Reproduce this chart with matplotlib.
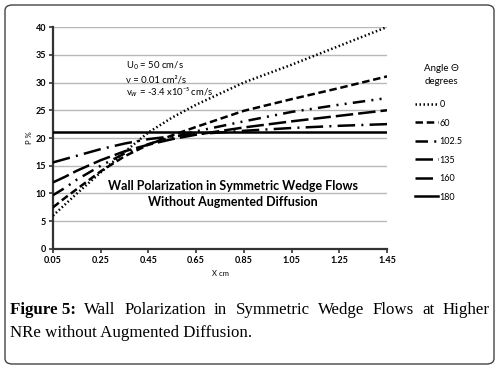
import matplotlib.pyplot as plt
import numpy as np
from matplotlib.patches import FancyBboxPatch

x_cm = [0.05, 0.1, 0.15, 0.25, 0.35, 0.45, 0.55, 0.65, 0.85, 1.05, 1.25, 1.45]
angles = ['0', '60', '102.5', '135', '160', '180']
p_0 = [6.0, 8.0, 10.0, 13.8, 17.5, 21.0, 23.7, 26.0, 30.0, 33.2, 36.6, 40.0]
p_60 = [7.5, 9.2, 10.8, 14.0, 16.7, 18.8, 20.5, 22.0, 24.9, 27.0, 29.0, 31.1]
p_102 = [9.7, 11.0, 12.5, 15.0, 17.2, 18.9, 20.2, 21.2, 23.0, 24.7, 26.0, 27.2]
p_135 = [12.0, 13.0, 14.1, 16.0, 17.6, 18.8, 19.8, 20.6, 21.9, 23.0, 24.0, 25.0]
p_160 = [15.6, 16.2, 16.8, 18.0, 19.0, 19.8, 20.3, 20.7, 21.3, 21.8, 22.2, 22.5]
p_180 = [21.0] * len(x_cm)
x_ticks = [0.05, 0.25, 0.45, 0.65, 0.85, 1.05, 1.25, 1.45]
y_ticks = [0, 5, 10, 15, 20, 25, 30, 35, 40]

series = [p_0, p_60, p_102, p_135, p_160, p_180]
styles = [
    (0, (0.6, 1.0)),
    (0, (3.0, 1.5)),
    (0, (5.0, 2.5, 0.8, 2.5, 0.8, 2.5)),
    (0, (7.0, 2.0)),
    (0, (7.0, 2.5, 0.8, 2.5)),
    '-',
]

sans = 'Lato'
fig = plt.figure(figsize=(4.99, 3.68), dpi=100)
ax = fig.add_axes([0.1062, 0.3234, 0.6694, 0.6032])

handles = []
for vals, ls, lab in zip(series, styles, angles):
    line, = ax.plot(x_cm, vals, color='black', lw=1.8, linestyle=ls,
                    dash_capstyle='butt', label=lab, zorder=3)
    handles.append(line)

ax.set_xlim(0.05, 1.45)
ax.set_ylim(0, 40)
ax.set_xticks(x_ticks)
ax.set_xticklabels([f'{t:.2f}' for t in x_ticks])
ax.set_yticks(y_ticks)
ax.grid(axis='y', color='#b8b8b8', lw=1.0)
ax.set_axisbelow(True)
for s in ['top', 'right']:
    ax.spines[s].set_visible(False)
for s in ['left', 'bottom']:
    ax.spines[s].set_color('#333333')
    ax.spines[s].set_linewidth(1.6)
ax.tick_params(axis='both', labelsize=6.5, length=3, width=1.2, color='#333333', pad=2)
for lab in ax.get_xticklabels() + ax.get_yticklabels():
    lab.set_fontfamily(sans)
    lab.set_fontweight('bold')
ax.set_xlabel('X cm', fontsize=5.5, family=sans, labelpad=4)
ax.set_ylabel('P %', fontsize=5.5, family=sans, labelpad=2)

ax.text(0.22, 0.815, 'U$_0$ = 50 cm/s', transform=ax.transAxes, fontsize=6.8, family=sans)
ax.text(0.22, 0.752, '\u03bd = 0.01 cm\u00b2/s', transform=ax.transAxes, fontsize=6.8, family=sans)
ax.text(0.22, 0.69, 'v$_w$ = -3.4 x10\u207b\u2075 cm/s', transform=ax.transAxes, fontsize=6.8, family=sans)

ax.text(0.54, 0.248, 'Wall Polarization in Symmetric Wedge Flows\nWithout Augmented Diffusion',
        transform=ax.transAxes, ha='center', va='center', fontsize=9, fontweight='bold',
        family=sans, linespacing=1.45)

fig.text(0.885, 0.796, 'Angle \u0398\ndegrees', ha='center', va='center', fontsize=7,
         family=sans, linespacing=1.5)
fig.legend(handles=handles, labels=angles, loc='upper left', bbox_to_anchor=(0.815, 0.75),
           frameon=False, handlelength=2.6, handletextpad=0.15,
           labelspacing=1.05, prop={'family': sans, 'size': 6.5})

# caption, first line justified
cap1 = ['Figure 5:', 'Wall', 'Polarization', 'in', 'Symmetric', 'Wedge', 'Flows', 'at', 'Higher']
fig.canvas.draw()
r = fig.canvas.get_renderer()
texts = []
for i, w in enumerate(cap1):
    t = fig.text(0, 0.147, w, fontsize=12.2, family='Liberation Serif',
                 fontweight='bold' if i == 0 else 'normal', va='baseline')
    texts.append(t)
widths = [t.get_window_extent(r).width for t in texts]
left, right = 10, 490
gap = (right - left - sum(widths)) / (len(widths) - 1)
pos = left
for t, w in zip(texts, widths):
    t.set_x(pos / 499)
    pos += w + gap
fig.text(10 / 499, 0.084, 'NRe without Augmented Diffusion.', fontsize=12.2,
         family='Liberation Serif', va='baseline')

fig.patches.append(FancyBboxPatch((5 / 499, 4 / 368), 489 / 499, 359 / 368,
                                  boxstyle='round,pad=0,rounding_size=0.015',
                                  transform=fig.transFigure, fill=False,
                                  edgecolor='#444444', lw=1.0))

fig.savefig('out.png', dpi=100)
